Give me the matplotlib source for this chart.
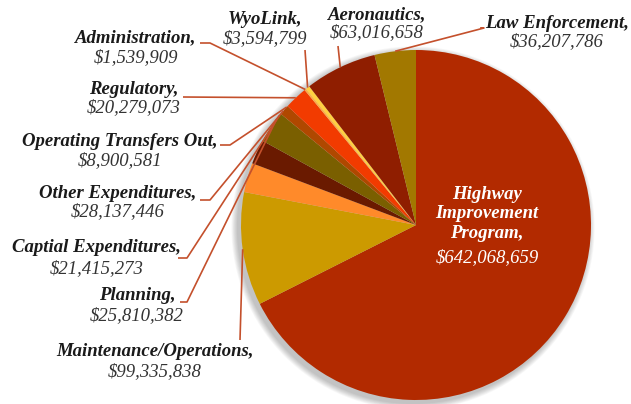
import matplotlib
matplotlib.use("Agg")
import matplotlib.pyplot as plt
from matplotlib.patches import Circle
import numpy as np

# budget items, clockwise from the top
names = ["Highway\nImprovement\nProgram,", "Maintenance/Operations,", "Planning,",
         "Captial Expenditures,", "Other Expenditures,", "Operating Transfers Out,",
         "Regulatory,", "Administration,", "WyoLink,", "Aeronautics,", "Law Enforcement,"]
amounts = [642068659, 99335838, 25810382, 21415273, 28137446, 8900581,
           20279073, 1539909, 3594799, 63016658, 36207786]
colors = ["#B22A00", "#CC9A00", "#FF8A2A", "#6A1A00", "#7A5F00", "#B04800",
          "#F23B00", "#FFAA44", "#FFD040", "#8F1E00", "#A27800"]

W, H = 631, 404
CX, CY, R = 416, 225, 175     # pie centre / radius in image pixels

def P(x, y):
    # image pixel -> data coords (y up)
    return x, H - y

fig = plt.figure(figsize=(W / 100, H / 100), dpi=100)
ax = fig.add_axes([0, 0, 1, 1])

# soft shadow under the pie
for i in range(8):
    ax.add_patch(Circle(P(CX - 3, CY + 3), R + 1 + i * 0.8, color="k", alpha=0.03,
                        lw=0, zorder=0))

wedges, _ = ax.pie(amounts, colors=colors, startangle=90, counterclock=False,
                   center=P(CX, CY), radius=R, wedgeprops=dict(linewidth=0))
for w in wedges:
    w.set_zorder(2)

ax.set_xlim(0, W)
ax.set_ylim(0, H)
ax.set_aspect("equal")
ax.axis("off")

serif = "Liberation Serif"
fs = 13.5
lead = "#C4502C"

# label layout: index, text centre x, name y, value y, line path start/elbow, anchor angle
labels = [
    (1, 155, 352, 372, [(240, 340)], None),
    (2, 137, 296, 316, [(180, 302), (187, 302)], 142.9),
    (3, 97, 248, 269, [(178, 258), (187, 258)], 141.2),
    (4, 118, 193, 212, [(200, 200), (210, 200)], 139.4),
    (5, 120, 142, 161, [(220, 145), (230, 145)], 137.6),
    (6, 134, 90, 108, [(183, 97)], None),
    (7, 136, 38, 58, [(200, 43), (210, 43)], None),
    (8, 265, 20, 39, [(305, 50)], None),
    (9, 377, 15, 33, [(338, 46)], None),
    (10, 557, 23, 42, [(480, 28), (484, 28)], None),
]

for idx, tx, ny, vy, path, ang in labels:
    ax.text(*P(tx, ny), names[idx], family=serif, style="italic", weight="bold",
            fontsize=fs, ha="center", va="center", color="#1a1a1a")
    ax.text(*P(tx, vy), "${:,}".format(amounts[idx]), family=serif, style="italic",
            fontsize=fs, ha="center", va="center", color="#333333")
    w = wedges[idx]
    a = np.deg2rad(ang if ang is not None else (w.theta1 + w.theta2) / 2)
    end = (CX + R * np.cos(a), CY - R * np.sin(a))
    pts = [P(x, y) for x, y in path] + [P(*end)]
    xs, ys = zip(*pts)
    ax.plot(xs, ys, color=lead, lw=1.2, zorder=3, solid_capstyle="butt")

# big slice label inside
ax.text(*P(487, 214), names[0], family=serif, style="italic", weight="bold",
        fontsize=fs, ha="center", va="center", color="white", linespacing=1.2, zorder=4)
ax.text(*P(487, 258), "${:,}".format(amounts[0]), family=serif, style="italic",
        fontsize=fs, ha="center", va="center", color="white", zorder=4)

fig.savefig("out.png", dpi=100)
